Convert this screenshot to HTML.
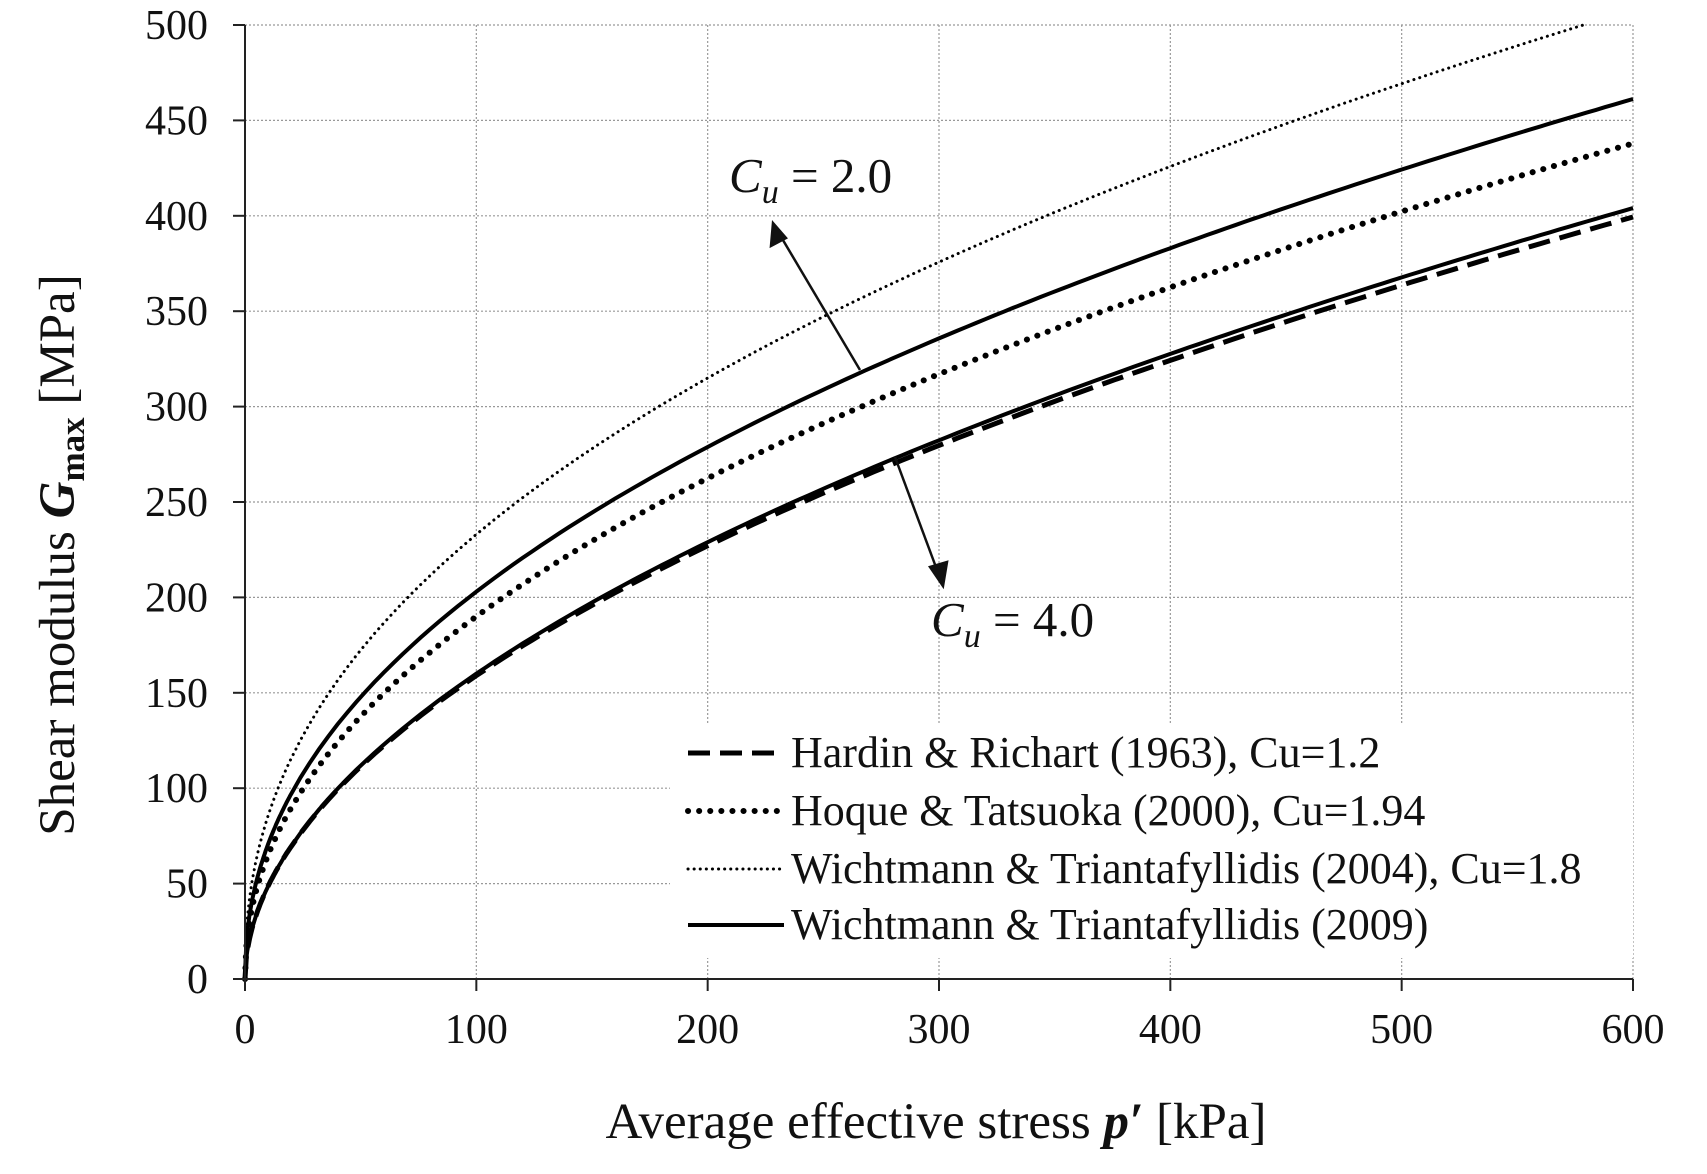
<!DOCTYPE html>
<html><head><meta charset="utf-8"><style>
html,body{margin:0;padding:0;background:#fff;}
svg{display:block;font-family:"Liberation Serif",serif;}
</style></head><body>
<svg id="s" width="1707" height="1174" viewBox="0 0 1707 1174" xmlns="http://www.w3.org/2000/svg">
<rect width="1707" height="1174" fill="#fff"/>
<g id="grid" stroke="#999" stroke-width="1.2" stroke-dasharray="2,2"></g>
<g id="curves" fill="none" stroke="#000"></g>
<rect x="670" y="724" width="963" height="234" fill="#fff"/>
<g id="axes" stroke="#222" stroke-width="2"></g>
<g id="labels" font-size="42" fill="#111"></g>
<g id="legend" font-size="44" fill="#111"></g>
<g stroke="#111" stroke-width="2.5" fill="#111">
<line x1="860" y1="370" x2="777" y2="230"/>
<polygon points="773,223 771,246 786,238"/>
<line x1="895" y1="457" x2="940" y2="578"/>
<polygon points="943,586 930,567 947,562"/>
</g>
<text x="729" y="192" font-size="49" fill="#111"><tspan font-style="italic">C</tspan><tspan font-style="italic" font-size="34" dy="11">u</tspan><tspan dy="-11"> = 2.0</tspan></text>
<text x="931" y="636" font-size="49" fill="#111"><tspan font-style="italic">C</tspan><tspan font-style="italic" font-size="34" dy="11">u</tspan><tspan dy="-11"> = 4.0</tspan></text>
<text transform="translate(74,555) rotate(-90)" text-anchor="middle" font-size="51" fill="#111">Shear modulus  <tspan font-style="italic" font-weight="bold">G</tspan><tspan font-weight="bold" font-size="35" dy="10">max</tspan><tspan dy="-10"> [MPa]</tspan></text>
<text x="936" y="1138" text-anchor="middle" font-size="51" fill="#111">Average effective stress  <tspan font-style="italic" font-weight="bold">p′</tspan> [kPa]</text>
<script>
var X0=245,X1=1633,Y0=979,Y1=25;
function X(p){return X0+(X1-X0)*p/600}
function Y(g){return Y0-(Y0-Y1)*g/500}
var NS="http://www.w3.org/2000/svg";
function el(par,tag,at,txt){var e=document.createElementNS(NS,tag);for(var k in at)e.setAttribute(k,at[k]);if(txt!=null)e.textContent=txt;document.getElementById(par).appendChild(e);return e;}
for(var i=1;i<=6;i++)el("grid","line",{x1:X(i*100),x2:X(i*100),y1:Y1,y2:Y0});
for(var j=1;j<=10;j++)el("grid","line",{x1:X0,x2:X1,y1:Y(j*50),y2:Y(j*50)});
el("axes","line",{x1:X0,x2:X0,y1:Y1,y2:Y0});
el("axes","line",{x1:X0,x2:X1,y1:Y0,y2:Y0});
for(var j=0;j<=10;j++){el("axes","line",{x1:X0-12,x2:X0,y1:Y(j*50),y2:Y(j*50)});el("labels","text",{x:208,y:Y(j*50)+14,"text-anchor":"end"},String(j*50));}
for(var i=0;i<=6;i++){el("axes","line",{x1:X(i*100),x2:X(i*100),y1:Y0,y2:Y0+12});el("labels","text",{x:X(i*100),y:1043,"text-anchor":"middle"},String(i*100));}
function curve(a,n,lim,attrs){var d="M"+X(0)+","+Y(0);for(var p=0.5;p<=600;p+=(p<20?0.5:4)){var g=a*Math.pow(p/100,n);if(g>lim)break;d+="L"+X(p).toFixed(1)+","+Y(g).toFixed(1);}
attrs.d=d;el("curves","path",attrs);}
var dotS={"stroke-width":3,"stroke-dasharray":"0.1,6","stroke-linecap":"round"};
curve(233,0.435,502,JSON.parse(JSON.stringify(dotS)));
curve(203,0.458,1e9,{"stroke-width":4});
curve(190,0.466,1e9,{"stroke-width":6,"stroke-dasharray":"0.1,11","stroke-linecap":"round"});
curve(160,0.517,1e9,{"stroke-width":4});
curve(159,0.514,1e9,{"stroke-width":5,"stroke-dasharray":"22,10"});
var L=[["Hardin & Richart (1963), Cu=1.2",{"stroke-width":5,"stroke-dasharray":"22,10"}],
["Hoque & Tatsuoka (2000), Cu=1.94",{"stroke-width":6,"stroke-dasharray":"0.1,11","stroke-linecap":"round"}],
["Wichtmann & Triantafyllidis (2004), Cu=1.8",JSON.parse(JSON.stringify(dotS))],
["Wichtmann & Triantafyllidis (2009)",{"stroke-width":4}]];
var ys=[753,811,869,925];
for(var k=0;k<4;k++){var a=L[k][1];a.x1=688;a.x2=784;a.y1=ys[k];a.y2=ys[k];a.stroke="#000";el("legend","line",a);el("legend","text",{x:791,y:ys[k]+14},L[k][0]);}
</script>
</svg>
</body></html>
